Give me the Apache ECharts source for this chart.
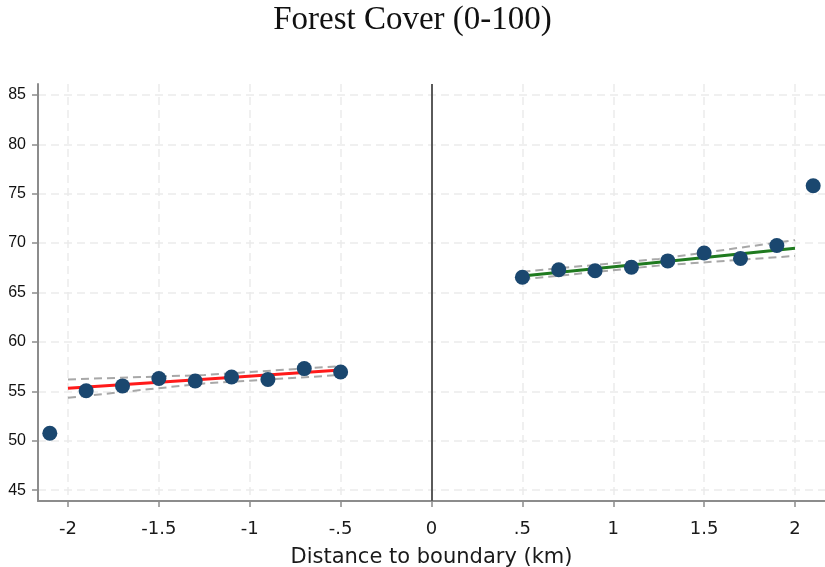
<!DOCTYPE html>
<html>
<head>
<meta charset="utf-8">
<title>Forest Cover</title>
<script src="https://cdn.jsdelivr.net/npm/echarts@6/dist/echarts.min.js"></script>
<style>
    html, body { margin: 0; padding: 0; background: #fff; }
    #chart { width: 825px; height: 567px; }
</style>
</head>
<body>
<div id="chart"></div>
<script>
// binned means, left and right of the boundary
var binXLeft = [-2.1, -1.9, -1.7, -1.5, -1.3, -1.1, -0.9, -0.7, -0.5];
var binYLeft = [50.75, 55.05, 55.55, 56.3, 56.05, 56.45, 56.2, 57.3, 56.95];
var binXRight = [0.5, 0.7, 0.9, 1.1, 1.3, 1.5, 1.7, 1.9, 2.1];
var binYRight = [66.55, 67.3, 67.2, 67.55, 68.2, 69.0, 68.45, 69.75, 75.8];

// linear fits with 95% bands
var fitXLeft = [-2, -1.25, -0.5];
var fitYLeft = [55.3, 56.22, 57.15];
var ciUpLeft = [56.2, 56.65, 57.55];
var ciLoLeft = [54.35, 55.8, 56.65];
var fitXRight = [0.5, 1.25, 2];
var fitYRight = [66.67, 68.07, 69.47];
var ciUpRight = [67.1, 68.4, 70.3];
var ciLoRight = [66.33, 67.72, 68.7];

var xTicks = [-2, -1.5, -1, -0.5, 0, 0.5, 1, 1.5, 2];
var yTicks = [45, 50, 55, 60, 65, 70, 75, 80, 85];

function zip(xs, ys) {
    var out = [];
    for (var i = 0; i < xs.length; i++) out.push([xs[i], ys[i]]);
    return out;
}

// stata style: -.5, .5
function fmtX(v) {
    var s = String(v);
    return s.replace(/^0\./, '.').replace(/^-0\./, '-.');
}

var chart = echarts.init(document.getElementById('chart'));

var dashGrey = { color: '#a8a8a8', width: 2, type: [8, 5] };

function lineSeries(xs, ys, style, z) {
    return {
        type: 'line', data: zip(xs, ys), showSymbol: false, symbol: 'none',
        lineStyle: style, z: z, silent: true, animation: false
    };
}

var option = {
    animation: false,
    title: {
        text: 'Forest Cover (0-100)',
        left: 'center', top: -1,
        textStyle: { fontFamily: 'Liberation Serif', fontWeight: 'normal', fontSize: 33, color: '#111' }
    },
    grid: { left: 38, right: 0, top: 84, bottom: 66, containLabel: false, outerBoundsMode: 'none' },
    xAxis: {
        type: 'value', min: -2.165, max: 2.165,
        name: 'Distance to boundary (km)', nameLocation: 'middle', nameGap: 46,
        nameTextStyle: { fontFamily: 'DejaVu Sans', fontSize: 21, color: '#1a1a1a' },
        axisLine: { show: true, onZero: false, lineStyle: { color: '#8c8c8c', width: 2 } },
        axisTick: { show: true, length: 6, customValues: xTicks, lineStyle: { color: '#8c8c8c', width: 1.5 } },
        axisLabel: { customValues: xTicks, formatter: fmtX, margin: 19,
            fontFamily: 'DejaVu Sans', fontSize: 18, color: '#1a1a1a' },
        splitLine: { show: true, lineStyle: { color: '#ebebeb', width: 1.5, type: [8, 5] } }
    },
    yAxis: {
        type: 'value', min: 43.9, max: 86.1,
        axisLine: { show: true, onZero: false, lineStyle: { color: '#8c8c8c', width: 2 } },
        axisTick: { show: true, length: 6, customValues: yTicks, lineStyle: { color: '#8c8c8c', width: 1.5 } },
        axisLabel: { customValues: yTicks, margin: 12,
            fontFamily: 'Liberation Sans', fontSize: 16, color: '#111' },
        splitLine: { show: true, lineStyle: { color: '#ebebeb', width: 1.5, type: [8, 5] } }
    },
    series: [
        lineSeries(fitXLeft, ciUpLeft, dashGrey, 2),
        lineSeries(fitXLeft, ciLoLeft, dashGrey, 2),
        lineSeries(fitXRight, ciUpRight, dashGrey, 2),
        lineSeries(fitXRight, ciLoRight, dashGrey, 2),
        lineSeries(fitXLeft, fitYLeft, { color: '#ff1a1a', width: 3, type: 'solid' }, 3),
        lineSeries(fitXRight, fitYRight, { color: '#1f7a1f', width: 3, type: 'solid' }, 3),
        {
            type: 'scatter', symbol: 'circle', symbolSize: 15, z: 4,
            itemStyle: { color: '#1a476f', opacity: 1 },
            data: zip(binXLeft, binYLeft).concat(zip(binXRight, binYRight)),
            markLine: {
                silent: true, symbol: 'none', label: { show: false },
                lineStyle: { color: '#5a5a5a', width: 2, type: 'solid' },
                data: [{ xAxis: 0 }]
            }
        }
    ]
};

chart.setOption(option);
</script>
</body>
</html>
